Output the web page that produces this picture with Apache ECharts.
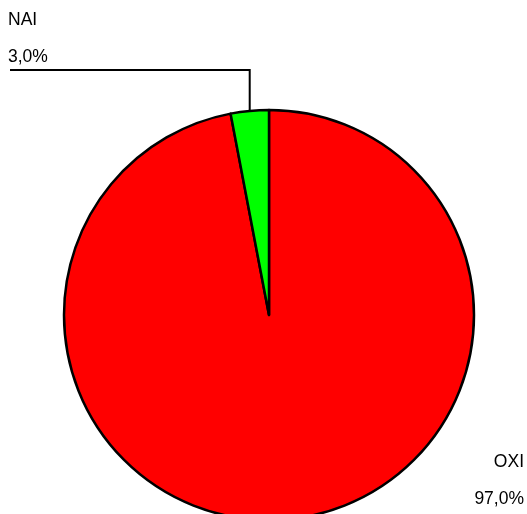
<!DOCTYPE html>
<html>
<head>
<meta charset="utf-8">
<script src="https://cdn.jsdelivr.net/npm/echarts@6/dist/echarts.min.js"></script>
<style>
html, body { margin: 0; padding: 0; background: #fff; }
#pie { width: 527px; height: 514px; }
</style>
</head>
<body>
<div id="pie"></div>
<script>
// data
var names = ['OXI', 'NAI'];
var values = [97.0, 3.0];
var colors = ['#ff0000', '#00ff00'];

var pie = echarts.init(document.getElementById('pie'));

function fmt(p) {
	return p.name + '\n' + p.percent.toFixed(1).replace('.', ',') + '%';
}

var items = [];
for (var i = 0; i < names.length; i++) {
	items.push({
		name: names[i],
		value: values[i],
		itemStyle: { color: colors[i] },
		labelLine: { show: i == 1 }
	});
}

var option_pie = {
	animation: false,
	series: [{
		type: 'pie',
		center: [269, 315],
		radius: [0, 205],
		startAngle: 90,
		clockwise: true,
		data: items,
		itemStyle: {
			borderColor: '#000',
			borderWidth: 2.5
		},
		label: {
			show: true,
			position: 'outside',
			formatter: fmt,
			color: '#000',
			fontFamily: 'Liberation Sans',
			fontSize: 17.5,
			lineHeight: 37
		},
		labelLine: {
			show: true,
			lineStyle: { color: '#000', width: 2 }
		},
		labelLayout: function (params) {
			if (params.dataIndex == 1) {
				var p = params.labelLinePoints;
				var sx = p ? p[0][0] : 250, sy = p ? p[0][1] : 111;
				return {
					x: 8, y: 1.5,
					align: 'left', verticalAlign: 'top',
					labelLinePoints: [[sx, sy], [sx, 70], [10, 70]]
				};
			}
			return { x: 524, y: 443.5, align: 'right', verticalAlign: 'top' };
		}
	}]
};

pie.setOption(option_pie);

window.onresize = function () {
	pie.resize();
};
</script>
</body>
</html>
